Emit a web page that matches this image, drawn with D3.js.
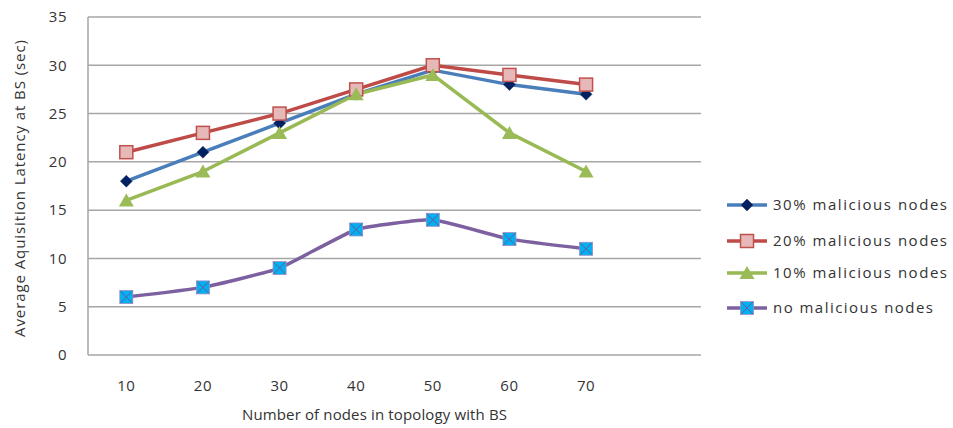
<!DOCTYPE html>
<html lang="en">
<head>
    <meta charset="UTF-8">
    <title>Acquisition latency chart</title>
    <script src="https://d3js.org/d3.v7.min.js"></script>
    <style>
        body { margin: 0; background: #fff; }
        text { font-family: "Open Sans", sans-serif; fill: #333; }
    </style>
</head>
<body>
    <div id="my_dataviz"></div>
    <script>
        // data
        const categories = ["10", "20", "30", "40", "50", "60", "70", ""];
        const yTicks = [0, 5, 10, 15, 20, 25, 30, 35];
        const mal30 = [18, 21, 24, 27, 29.5, 28, 27];
        const mal20 = [21, 23, 25, 27.5, 30, 29, 28];
        const mal10 = [16, 19, 23, 27, 29, 23, 19];
        const mal0 = [6, 7, 9, 13, 14, 12, 11];
        const seriesNames = ["30% malicious nodes", "20% malicious nodes", "10% malicious nodes", "no malicious nodes"];

        const W = 953, H = 428;
        const margin = { top: 17, right: 252, bottom: 73, left: 88 },
            width = W - margin.left - margin.right,
            height = H - margin.top - margin.bottom;

        const svg = d3.select("#my_dataviz")
            .append("svg")
            .attr("width", W)
            .attr("height", H);

        const g = svg.append("g")
            .attr("transform", `translate(${margin.left},${margin.top})`);

        const x = d3.scaleBand()
            .domain(categories)
            .range([0, width]);

        const y = d3.scaleLinear()
            .domain([0, 35])
            .range([height, 0]);

        // gridlines
        g.append("g")
            .selectAll("line")
            .data(yTicks)
            .enter()
            .append("line")
                .attr("x1", 0)
                .attr("x2", width)
                .attr("y1", d => y(d))
                .attr("y2", d => y(d))
                .style("stroke", "#a6a6a6")
                .style("stroke-width", 1.5);

        // left axis line
        g.append("line")
            .attr("x1", 0).attr("x2", 0)
            .attr("y1", 0).attr("y2", height)
            .style("stroke", "#a6a6a6")
            .style("stroke-width", 1.5);

        // y tick labels
        const yAxis = g.append("g")
            .call(d3.axisLeft(y).tickValues(yTicks).tickSize(0).tickPadding(21));
        yAxis.select(".domain").remove();
        yAxis.selectAll("text")
            .style("font-size", "15px")
            .style("letter-spacing", "0.5px")
            .style("font-family", "Open Sans, sans-serif")
            .style("fill", "#333");

        // x tick labels
        const xAxis = g.append("g")
            .attr("transform", `translate(0,${height})`)
            .call(d3.axisBottom(x).tickSize(0).tickPadding(25));
        xAxis.select(".domain").remove();
        xAxis.selectAll("text")
            .style("font-size", "15px")
            .style("letter-spacing", "0.5px")
            .style("font-family", "Open Sans, sans-serif")
            .style("fill", "#333");

        // axis titles
        svg.append("text")
            .attr("x", 242)
            .attr("y", 420)
            .attr("textLength", 265)
            .attr("lengthAdjust", "spacing")
            .style("font-size", "15px")
            .text("Number of nodes in topology with BS");

        svg.append("text")
            .attr("transform", "translate(25,337) rotate(-90)")
            .attr("textLength", 297)
            .attr("lengthAdjust", "spacing")
            .style("font-size", "15px")
            .text("Average Aquisition Latency at BS  (sec)");

        const cx = (d, i) => x(categories[i]) + x.bandwidth() / 2;

        const series = [
            { name: seriesNames[0], values: mal30, line: "#4a7ebb", marker: "diamond", curve: d3.curveLinear, len: 174 },
            { name: seriesNames[1], values: mal20, line: "#be4b48", marker: "square", curve: d3.curveLinear, len: 174 },
            { name: seriesNames[2], values: mal10, line: "#98b954", marker: "triangle", curve: d3.curveLinear, len: 174 },
            { name: seriesNames[3], values: mal0, line: "#7d60a0", marker: "xsquare", curve: d3.curveCardinal.tension(0.6), len: 160 }
        ];

        function drawMarker(sel, type) {
            if (type === "diamond") {
                sel.append("path")
                    .attr("d", "M0,-6L6,0L0,6L-6,0Z")
                    .style("fill", "#002060")
                    .style("stroke", "#1f3864")
                    .style("stroke-width", 0.5);
            } else if (type === "square") {
                sel.append("rect")
                    .attr("x", -6.5).attr("y", -6.5)
                    .attr("width", 13).attr("height", 13)
                    .style("fill", "#e6b9b8")
                    .style("stroke", "#c0504d")
                    .style("stroke-width", 1.5);
            } else if (type === "triangle") {
                sel.append("path")
                    .attr("d", "M0,-7L7.5,6L-7.5,6Z")
                    .style("fill", "#9bbb59");
            } else {
                sel.append("rect")
                    .attr("x", -6.5).attr("y", -6.5)
                    .attr("width", 13).attr("height", 13)
                    .style("fill", "#00b0f0")
                    .style("stroke", "#9b8ec4")
                    .style("stroke-width", 0.8);
                sel.append("path")
                    .attr("d", "M-6,-6L6,6M6,-6L-6,6")
                    .style("stroke", "#6a5a9e")
                    .style("stroke-width", 1);
            }
        }

        series.forEach(s => {
            const line = d3.line()
                .x(cx)
                .y(d => y(d))
                .curve(s.curve);
            g.append("path")
                .datum(s.values)
                .attr("d", line)
                .style("fill", "none")
                .style("stroke", s.line)
                .style("stroke-width", 3.5)
                .style("stroke-linejoin", "round");
        });

        series.forEach(s => {
            g.append("g")
                .selectAll("g")
                .data(s.values)
                .enter()
                .append("g")
                    .attr("transform", (d, i) => `translate(${cx(d, i)},${y(d)})`)
                    .each(function () { drawMarker(d3.select(this), s.marker); });
        });

        // legend
        const legendY = [205, 241, 273, 308];
        const legend = svg.append("g")
            .selectAll("g")
            .data(series)
            .enter()
            .append("g")
                .attr("transform", (d, i) => `translate(727,${legendY[i]})`);
        legend.append("line")
            .attr("x1", 0).attr("x2", 40)
            .style("stroke", d => d.line)
            .style("stroke-width", 3.5);
        legend.each(function (d) {
            const m = d3.select(this).append("g").attr("transform", "translate(20,0)");
            drawMarker(m, d.marker);
        });
        legend.append("text")
            .attr("x", 46)
            .attr("dy", "0.35em")
            .attr("textLength", d => d.len)
            .attr("lengthAdjust", "spacing")
            .style("font-size", "15px")
            .text(d => d.name);
    </script>
</body>
</html>
